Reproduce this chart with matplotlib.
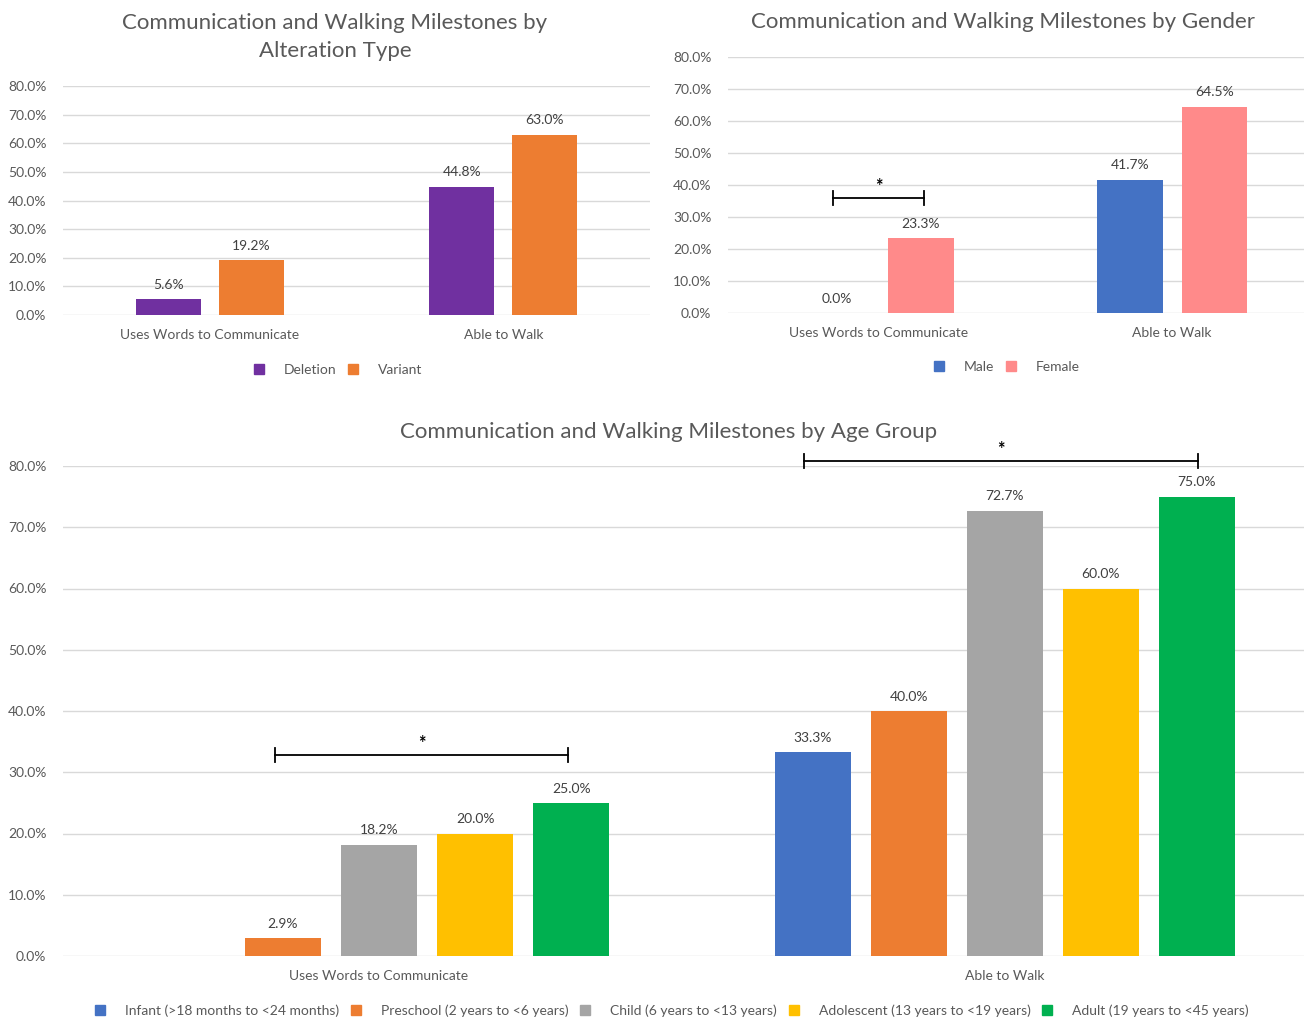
import numpy as np
import matplotlib.pyplot as plt
from matplotlib.lines import Line2D

plt.rcParams['font.family'] = ['Lato', 'DejaVu Sans']

# data (percent)
categories = ["Uses Words to Communicate", "Able to Walk"]

alt_labels = ["Deletion", "Variant"]
deletion = [5.6, 44.8]
variant = [19.2, 63.0]

gender_labels = ["Male", "Female"]
male = [0.0, 41.7]
female = [23.3, 64.5]

age_labels = ["Infant (>18 months to <24 months)", "Preschool (2 years to <6 years)",
              "Child (6 years to <13 years)", "Adolescent (13 years to <19 years)",
              "Adult (19 years to <45 years)"]
infant = [np.nan, 33.3]
preschool = [2.9, 40.0]
child = [18.2, 72.7]
adolescent = [20.0, 60.0]
adult = [25.0, 75.0]

W, H = 1304, 1019
TXT = '#595959'
GRID = '#D9D9D9'


def px_axes(fig, x0, y0, x1, y1):
    # pixel box (top-left origin) -> figure axes
    return fig.add_axes([x0 / W, 1 - y1 / H, (x1 - x0) / W, (y1 - y0) / H])


def style(ax):
    ax.set_ylim(0, 80)
    ax.set_yticks(np.arange(0, 81, 10))
    ax.set_yticklabels([f"{v:.1f}%" for v in np.arange(0, 81, 10)])
    ax.grid(axis='y', color=GRID, linewidth=1)
    ax.set_axisbelow(True)
    for s in ax.spines.values():
        s.set_visible(False)
    ax.tick_params(length=0, labelsize=10, colors=TXT, pad=12)
    ax.tick_params(axis='x', pad=10)
    ax.set_xticks(range(len(categories)))
    ax.set_xticklabels(categories)


def bars(ax, series, colors, width, step):
    n = len(series)
    x = np.arange(len(categories))
    for i, (vals, c) in enumerate(zip(series, colors)):
        off = (i - (n - 1) / 2) * step
        ax.bar(x + off, vals, width, color=c, zorder=3)
        for xi, v in zip(x + off, vals):
            if not np.isnan(v):
                ax.annotate(f"{v:.1f}%", (xi, v), xytext=(0, 6),
                            textcoords='offset points', ha='center', va='bottom',
                            fontsize=10, color='#404040', annotation_clip=False)


def bracket(ax, x0, x1, y, tick):
    ax.plot([x0, x1], [y, y], color='black', lw=1.3, clip_on=False, zorder=5)
    for xx in (x0, x1):
        ax.plot([xx, xx], [y - tick, y + tick], color='black', lw=1.3,
                clip_on=False, zorder=5)
    ax.annotate("*", ((x0 + x1) / 2, y), xytext=(0, 2), textcoords='offset points',
                ha='center', va='bottom', fontsize=13, fontweight='bold',
                color='black', annotation_clip=False)


def legend(fig, labels, colors, cx, cy):
    handles = [Line2D([], [], marker='s', color=c, linestyle='none', markersize=7)
               for c in colors]
    fig.legend(handles, labels, loc='center', bbox_to_anchor=(cx / W, 1 - cy / H),
               ncol=len(labels), frameon=False, fontsize=10, labelcolor=TXT,
               handletextpad=1.3, columnspacing=0.7, handlelength=1.0)


fig = plt.figure(figsize=(W / 100, H / 100), dpi=100)

# top-left: alteration type
ax1 = px_axes(fig, 63, 86, 650, 315)
style(ax1)
ax1.set_xlim(-0.5, 1.5)
bars(ax1, [deletion, variant], ['#7030A0', '#ED7D31'], 0.222, 0.282)
fig.text(335 / W, 1 - 37 / H, "Communication and Walking Milestones by\nAlteration Type",
         ha='center', va='center', fontsize=16, color=TXT, linespacing=1.55)
legend(fig, alt_labels, ['#7030A0', '#ED7D31'], 337, 370)

# top-right: gender
ax2 = px_axes(fig, 728, 57, 1304, 313)
style(ax2)
ax2.set_xlim(-0.515, 1.45)
bars(ax2, [male, female], ['#4472C4', '#FF8A8A'], 0.222, 0.287)
bracket(ax2, -0.157, 0.154, 35.9, 2.2)
fig.text(1003 / W, 1 - 22 / H, "Communication and Walking Milestones by Gender",
         ha='center', va='center', fontsize=16, color=TXT)
legend(fig, gender_labels, ['#4472C4', '#FF8A8A'], 1006, 367)

# bottom: age group
age_colors = ['#4472C4', '#ED7D31', '#A5A5A5', '#FFC000', '#00B050']
ax3 = px_axes(fig, 63, 466, 1304, 956)
style(ax3)
ax3.set_xlim(-0.505, 1.478)
bars(ax3, [infant, preschool, child, adolescent, adult], age_colors, 0.121, 0.1535)
bracket(ax3, -0.166, 0.302, 32.8, 1.1)
bracket(ax3, 1 - 0.321, 1 + 0.308, 80.8, 1.1)
fig.text(669 / W, 1 - 432 / H, "Communication and Walking Milestones by Age Group",
         ha='center', va='center', fontsize=16, color=TXT)
legend(fig, age_labels, age_colors, 671, 1011)

fig.savefig("out.png", dpi=100)
